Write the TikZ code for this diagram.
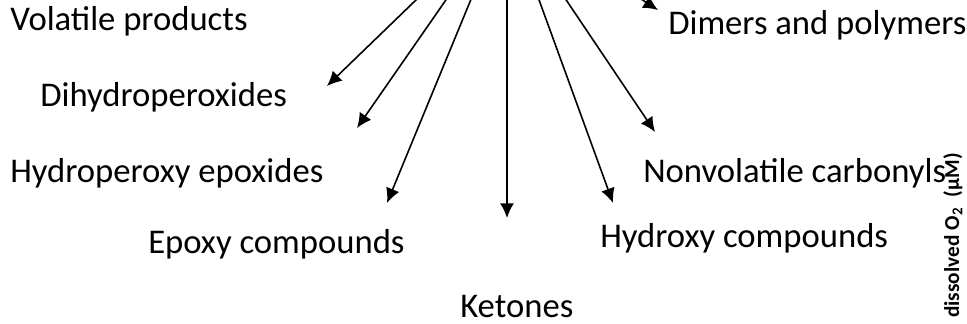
\documentclass[tikz,border=0pt]{standalone}
\usepackage{fontspec}
\setmainfont{Carlito}
\usetikzlibrary{arrows.meta, positioning}

\begin{document}
\begin{tikzpicture}[x=0.75pt, y=-0.75pt, >={Latex[length=11pt,width=10.5pt]},
    product/.style={anchor=base west, inner sep=0pt, font=\fontsize{26}{31}\selectfont}]
    \useasboundingbox (0,0) rectangle (967,324);
    \clip (0,0) rectangle (967,324);

    % Produkte
    \node[product] (volatile) at (10,31) {Volatile products};
    \node[product] (dihydro) at (40,107) {Dihydroperoxides};
    \node[product] (hpepox) at (10,182) {Hydroperoxy epoxides};
    \node[product] (epoxy) at (148,253) {Epoxy compounds};
    \node[product] (ketones) at (460,317) {Ketones};
    \node[product] (hydroxy) at (600,247) {Hydroxy compounds};
    \node[product] (carbonyls) at (643,183) {Nonvolatile carbonyls};
    \node[product] (dimers) at (668,35) {Dimers and polymers};

    % Achsenbeschriftung
    \node[rotate=90, anchor=base west, inner sep=0pt, font=\bfseries\fontsize{16}{19}\selectfont]
        (oxygen) at (959,318) {dissolved O\textsubscript{2}\; (µM)};

    % Pfeile
    \coordinate (src) at (507,-88);
    \coordinate (t1) at (327,86);
    \coordinate (t2) at (357,128);
    \coordinate (t3) at (387,203);
    \coordinate (t4) at (507,218);
    \coordinate (t5) at (613,203);
    \coordinate (t6) at (655,132);
    \coordinate (t7) at (658,10);
    \foreach \t in {t1,t2,t3,t4,t5,t6,t7} {
        \draw[->, line width=1.2pt] (src) -- (\t);
    }
\end{tikzpicture}
\end{document}
